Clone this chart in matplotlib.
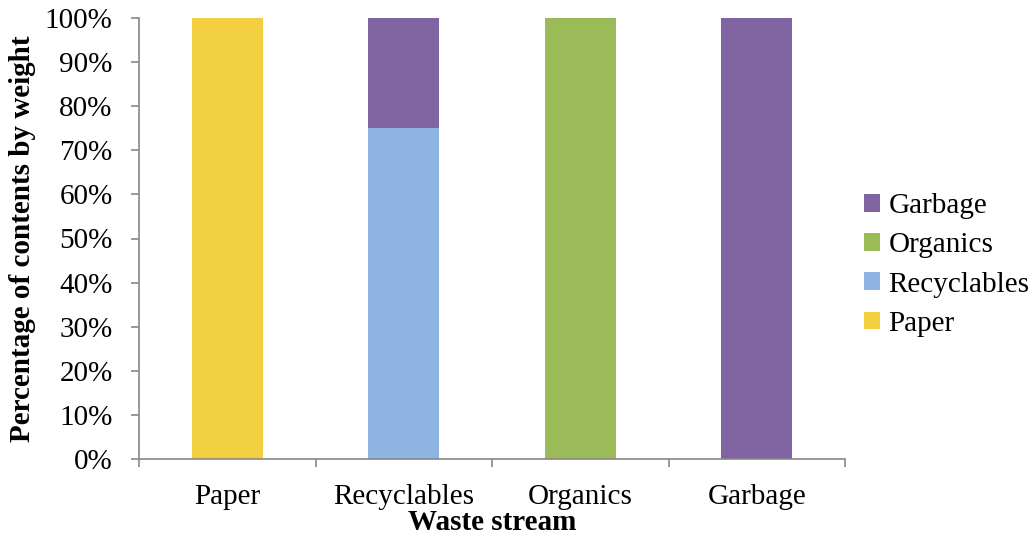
import numpy as np
import matplotlib.pyplot as plt
from matplotlib.ticker import FixedLocator

plt.rcParams['font.family'] = ['Liberation Serif', 'DejaVu Serif']

streams = ['Paper', 'Recyclables', 'Organics', 'Garbage']
paper = [100, 0, 0, 0]
recyclables = [0, 75, 0, 0]
organics = [0, 0, 100, 0]
garbage = [0, 25, 0, 100]

series = [('Paper', paper, '#F2CF41'),
          ('Recyclables', recyclables, '#8EB4E3'),
          ('Organics', organics, '#9BBB59'),
          ('Garbage', garbage, '#8064A2')]

fig = plt.figure(figsize=(10.32, 5.36), dpi=100)
ax = fig.add_axes([139/1032, 77/536, 706/1032, 441/536])

x = np.arange(len(streams))
bottom = np.zeros(len(streams))
for name, vals, col in series:
    ax.bar(x, vals, 0.4, bottom=bottom, color=col, label=name)
    bottom += np.array(vals)

ax.set_xlim(-0.5, len(streams) - 0.5)
ax.set_ylim(0, 100)
ax.set_yticks(np.arange(0, 101, 10))
ax.set_yticklabels([f'{v}%' for v in range(0, 101, 10)], fontsize=21)
ax.set_xticks(x)
ax.set_xticklabels(streams, fontsize=21)
ax.tick_params(axis='x', which='major', length=0, pad=18)
ax.xaxis.set_minor_locator(FixedLocator(np.arange(-0.5, len(streams), 1)))
ax.tick_params(axis='x', which='minor', length=6, width=1.2, color='#888888')
ax.tick_params(axis='y', length=6, width=1.2, color='#888888', pad=13)
for s in ['top', 'right']:
    ax.spines[s].set_visible(False)
for s in ['left', 'bottom']:
    ax.spines[s].set_color('#888888')
    ax.spines[s].set_linewidth(1.2)

ax.set_xlabel('Waste stream', fontsize=21, fontweight='bold', labelpad=-1)
ax.set_ylabel('Percentage of contents by weight', fontsize=21, fontweight='bold', labelpad=6)

h, l = ax.get_legend_handles_labels()
ax.legend(h[::-1], l[::-1], loc='center left', bbox_to_anchor=(1.01, 0.44),
          frameon=False, fontsize=21, handlelength=0.55, handleheight=0.55,
          handletextpad=0.3, labelspacing=0.45, borderaxespad=0)

fig.savefig('out.png', dpi=100)
